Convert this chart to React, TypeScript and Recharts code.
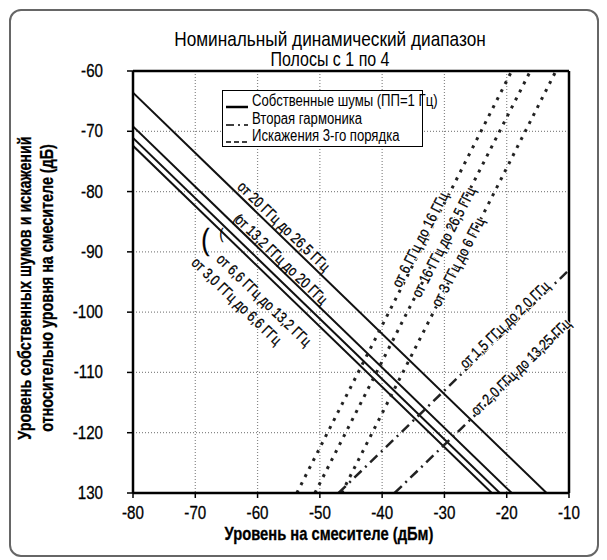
import { LineChart, Line, XAxis, YAxis, CartesianGrid, ReferenceLine, ReferenceDot, Legend, Label } from 'recharts';

// Arial Narrow is not installed, so Liberation Sans is squeezed horizontally instead
const FONT = "'Liberation Sans', Arial, sans-serif";
const NARROW = 0.82;

// axis ticks
const xTicks = [-80, -70, -60, -50, -40, -30, -20, -10];
const yTicks = [-60, -70, -80, -90, -100, -110, -120, -130];
const yTickLabels = ['-60', '-70', '-80', '-90', '-100', '-110', '-120', '130'];

// noise floor (1 Hz RBW), solid lines: level at -80 dBm and where each hits -130 dB
const noiseBands = ['от 3,0 ГГц до 6,6 ГГц', 'от 6,6 ГГц до 13,2 ГГц', 'от 13,2 ГГц до 20 ГГц', 'от 20 ГГц до 26,5 ГГц'];
const noiseAtMinus80 = [-72.4, -71.1, -69.2, -63.6];
const noiseHitBottom = [-22.4, -21.1, -19.2, -13.6];
const noiseLabelX = [-63.4, -59.0, -56.2, -55.8];
const noiseLabelY = [-98.2, -98.0, -91.3, -85.8];

// third-order distortion, dotted lines: mixer level at -130 dB and at -60 dB
const thirdBands = ['от 6 ГГц до 16 ГГц', 'от 16 ГГц до 26,5 ГГц', 'от 3 ГГц до 6 ГГц'];
const thirdBottomX = [-53.7, -50.8, -46.5];
const thirdTopX = [-19.2, -16.2, -12.1];
const thirdLabelX = [-33.9, -30.1, -27.8];
const thirdLabelY = [-88.0, -88.4, -91.7];

// second harmonic, dash-dot lines: mixer level at -130 dB and level at -10 dBm
const harmBands = ['от 1,5 ГГц до 2,0 ГГц', 'от 2,0 ГГц до 13,25 ГГц'];
const harmBottomX = [-47, -38];
const harmAtMinus10 = [-93, -102];
const harmLabelX = [-20.3, -17.7];
const harmLabelY = [-102.1, -109.1];

// little bracket marks next to the noise labels
const bracketX = [-68.4, -65.8, -63.2];
const bracketY = [-88.0, -87.0, -84.3];

const legendLabels = ['Собственные шумы (ПП=1 Гц)', 'Вторая гармоника', 'Искажения 3-го порядка'];

const noiseSeries = noiseBands.map((_, i) => [
  { x: -80, y: noiseAtMinus80[i] },
  { x: noiseHitBottom[i], y: -130 },
]);
const thirdSeries = thirdBands.map((_, i) => [
  { x: thirdBottomX[i], y: -130 },
  { x: thirdTopX[i], y: -60 },
]);
const harmSeries = harmBands.map((_, i) => [
  { x: harmBottomX[i], y: -130 },
  { x: -10, y: harmAtMinus10[i] },
]);

interface NarrowTextProps {
  x: number;
  y: number;
  angle?: number;
  anchor?: 'start' | 'middle' | 'end';
  size?: number;
  weight?: number;
  dy?: string;
  baseline?: 'central' | 'auto';
  halo?: boolean;
  children: any;
}

function NarrowText({ x, y, angle = 0, anchor = 'middle', size = 15, weight = 400, dy, baseline = 'auto', halo = false, children }: NarrowTextProps) {
  return (
    <g transform={`translate(${x} ${y}) rotate(${angle}) scale(${NARROW} 1)`}>
      {halo && (
        <text
          textAnchor={anchor}
          dominantBaseline={baseline}
          dy={dy}
          fontFamily={FONT}
          fontSize={size}
          fontWeight={weight}
          fill="#fff"
          stroke="#fff"
          strokeWidth={2.5}
          strokeLinejoin="round"
        >
          {children}
        </text>
      )}
      <text
        textAnchor={anchor}
        dominantBaseline={baseline}
        dy={dy}
        fontFamily={FONT}
        fontSize={size}
        fontWeight={weight}
        fill="#000"
        stroke="#000"
        strokeWidth={0.3}
      >
        {children}
      </text>
    </g>
  );
}

const rotatedText = (text: string, angle: number, size = 15, halo = false) => (props: any) => (
  <NarrowText x={props.cx} y={props.cy} angle={angle} size={size} baseline="central" halo={halo}>
    {text}
  </NarrowText>
);

const XTick = (props: any) => (
  <NarrowText x={props.x} y={props.y} size={18.5} dy="0.71em">
    {props.payload.value}
  </NarrowText>
);

const YTick = (props: any) => (
  <NarrowText x={props.x} y={props.y} size={18.5} anchor="end" baseline="central">
    {yTickLabels[yTicks.indexOf(props.payload.value)]}
  </NarrowText>
);

const sampleDash = ['', '8 4 2 4', '5 3'];

const renderLegend = () => (
  <div
    style={{
      border: '1.5px solid #000',
      background: '#fff',
      padding: '1px 2px 3px 2px',
      fontFamily: FONT,
      fontSize: 16,
      lineHeight: '17.5px',
      color: '#000',
      boxSizing: 'border-box',
      width: 201,
      height: 57,
    }}
  >
    {legendLabels.map((label, i) => (
      <div key={label} style={{ display: 'flex', alignItems: 'flex-start', whiteSpace: 'nowrap', width: 160 }}>
        <svg width={24} height={17.5} style={{ flex: 'none', marginRight: 3 }}>
          <line x1={1} x2={23} y1={15} y2={15} stroke="#000" strokeWidth={i === 0 ? 2.5 : 1.5} strokeDasharray={sampleDash[i]} />
        </svg>
        <span
          style={{
            flex: 'none',
            display: 'inline-block',
            transform: `scaleX(${NARROW})`,
            transformOrigin: 'left center',
          }}
        >
          {label}
        </span>
      </div>
    ))}
  </div>
);

const YTitle = (props: any) => {
  const { viewBox } = props;
  const cy = viewBox.y + viewBox.height / 2 + 6;
  return (
    <g>
      <NarrowText x={viewBox.x - 48} y={cy} angle={-90} size={17.5} weight={700} baseline="central">
        Уровень собственных шумов и искажений
      </NarrowText>
      <NarrowText x={viewBox.x - 26} y={cy} angle={-90} size={17.5} weight={700} baseline="central">
        относительно уровня на смесителе (дБ)
      </NarrowText>
    </g>
  );
};

const XTitle = (props: any) => {
  const { viewBox } = props;
  return (
    <NarrowText x={viewBox.x + viewBox.width / 2 - 22} y={viewBox.y + viewBox.height + 17} size={18} weight={700}>
      Уровень на смесителе (дБм)
    </NarrowText>
  );
};

const titleStyle = {
  position: 'absolute' as const,
  left: 130,
  width: 400,
  textAlign: 'center' as const,
  fontFamily: FONT,
  color: '#000',
  transform: `scaleX(${NARROW})`,
  transformOrigin: 'center',
  whiteSpace: 'nowrap' as const,
  zIndex: 2,
};

export default function App() {
  return (
    <div style={{ position: 'absolute', left: 0, top: 0, width: 607, height: 560, background: '#fff' }}>
      <div
        style={{
          position: 'absolute',
          left: 9,
          top: 9,
          width: 590,
          height: 548,
          border: '2px solid #666',
          borderRadius: 12,
          boxSizing: 'border-box',
        }}
      />
      <div style={{ ...titleStyle, top: 27.5, fontSize: 21, lineHeight: '21px' }}>Номинальный динамический диапазон</div>
      <div style={{ ...titleStyle, top: 50, fontSize: 19.5, lineHeight: '19.5px' }}>Полосы с 1 по 4</div>
      <LineChart width={607} height={560} margin={{ top: 71, right: 38, left: 73, bottom: 37 }}>
        <CartesianGrid stroke="#888" strokeDasharray="1 2" strokeWidth={1.2} />
        <XAxis
          type="number"
          dataKey="x"
          domain={[-80, -10]}
          ticks={xTicks}
          allowDataOverflow
          height={30}
          tickSize={5}
          tickMargin={8}
          axisLine={{ stroke: '#000', strokeWidth: 2.5 }}
          tickLine={{ stroke: '#000', strokeWidth: 1.5 }}
          tick={XTick}
        >
          <Label content={XTitle} />
        </XAxis>
        <YAxis
          type="number"
          dataKey="y"
          domain={[-130, -60]}
          ticks={yTicks}
          allowDataOverflow
          width={60}
          tickSize={6}
          tickMargin={24}
          axisLine={{ stroke: '#000', strokeWidth: 2.5 }}
          tickLine={{ stroke: '#000', strokeWidth: 1.5 }}
          tick={YTick}
          label={{ content: YTitle }}
        />
        <ReferenceLine y={-60} stroke="#000" strokeWidth={2.5} />
        <ReferenceLine x={-10} stroke="#000" strokeWidth={2.5} />
        {noiseSeries.map((pts, i) => (
          <Line
            key={`noise-${i}`}
            data={pts}
            dataKey="y"
            type="linear"
            stroke="#111"
            strokeWidth={2}
            dot={false}
            activeDot={false}
            isAnimationActive={false}
          />
        ))}
        {thirdSeries.map((pts, i) => (
          <Line
            key={`third-${i}`}
            data={pts}
            dataKey="y"
            type="linear"
            stroke="#222"
            strokeWidth={3}
            strokeDasharray="3 6"
            dot={false}
            activeDot={false}
            isAnimationActive={false}
          />
        ))}
        {harmSeries.map((pts, i) => (
          <Line
            key={`harm-${i}`}
            data={pts}
            dataKey="y"
            type="linear"
            stroke="#222"
            strokeWidth={2.5}
            strokeDasharray="10 5 2 5"
            dot={false}
            activeDot={false}
            isAnimationActive={false}
          />
        ))}
        {noiseBands.map((text, i) => (
          <ReferenceDot key={`nl-${i}`} x={noiseLabelX[i]} y={noiseLabelY[i]} r={0} shape={rotatedText(text, 44)} />
        ))}
        {thirdBands.map((text, i) => (
          <ReferenceDot key={`tl-${i}`} x={thirdLabelX[i]} y={thirdLabelY[i]} r={0} shape={rotatedText(text, -62.7, 15, true)} />
        ))}
        {harmBands.map((text, i) => (
          <ReferenceDot key={`hl-${i}`} x={harmLabelX[i]} y={harmLabelY[i]} r={0} shape={rotatedText(text, -44, 15, true)} />
        ))}
        {bracketX.map((bx, i) => (
          <ReferenceDot
            key={`br-${i}`}
            x={bx}
            y={bracketY[i]}
            r={0}
            shape={rotatedText('(', i === 2 ? 45 : 0, i === 0 ? 30 : 14)}
          />
        ))}
        <Legend
          layout="vertical"
          align="center"
          verticalAlign="middle"
          wrapperStyle={{ left: 222, top: 90, width: 201 }}
          content={renderLegend}
        />
      </LineChart>
    </div>
  );
}
